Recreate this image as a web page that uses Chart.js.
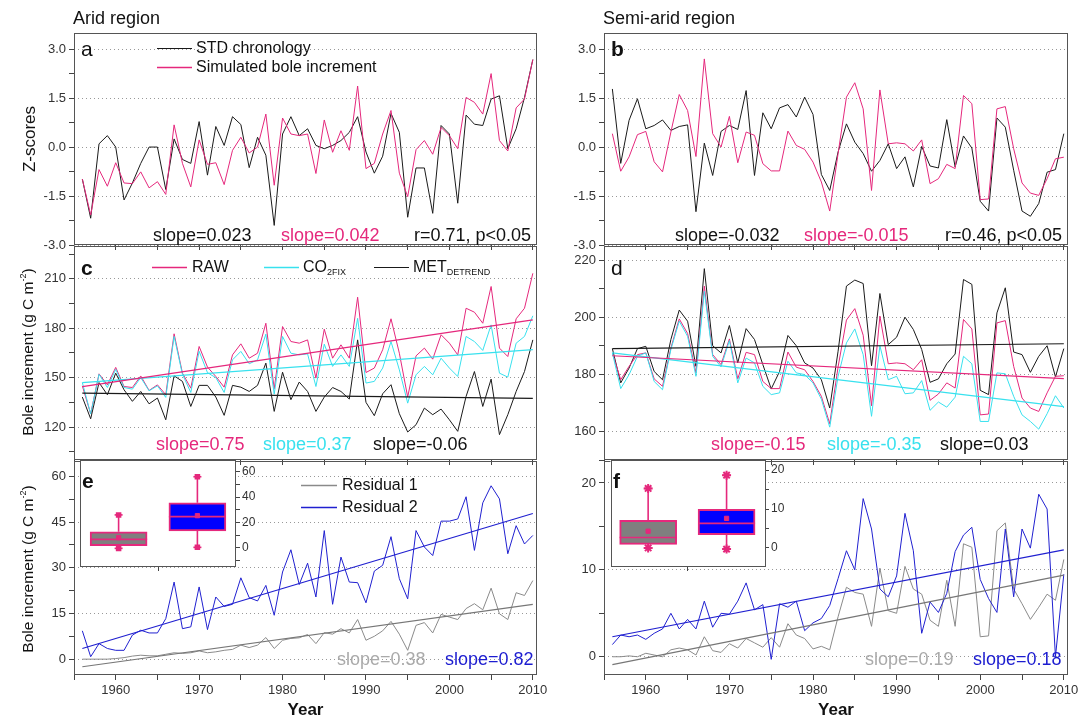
<!DOCTYPE html>
<html>
<head>
<meta charset="utf-8">
<script src="https://cdn.jsdelivr.net/npm/chart.js@4.4.0/dist/chart.umd.min.js"></script>
<style>
body{margin:0;background:#fff;width:1087px;height:721px;position:relative;overflow:hidden;font-family:"Liberation Sans",Arial,sans-serif;color:#111;}
#plots canvas{position:absolute;}
.t{position:absolute;white-space:nowrap;line-height:1;z-index:2;}
.s{font-size:18px;}
.g{font-size:16px;}
.L{font-size:21px;}
svg.ln{position:absolute;z-index:2;overflow:visible;}
.yt{position:absolute;white-space:nowrap;line-height:1;transform:translate(-50%,-50%) rotate(-90deg);z-index:2;}
sub{font-size:9px;vertical-align:-3px;}
sup{font-size:9px;vertical-align:7px;}
</style>
</head>
<body>
<div id="plots"></div>

<div class="t" style="left:73px;top:9px;font-size:18px">Arid region</div>
<div class="t" style="left:603px;top:9px;font-size:18px">Semi-arid region</div>

<div class="yt" style="left:29px;top:139px;font-size:17px">Z-scores</div>
<div class="yt" style="left:27px;top:352px;font-size:15.5px">Bole increment (g C m<sup>-2</sup>)</div>
<div class="yt" style="left:27px;top:569px;font-size:15.5px">Bole increment (g C m<sup>-2</sup>)</div>

<div class="t L" style="left:81px;top:38px">a</div>
<div class="t L" style="left:611px;top:38px;font-weight:bold">b</div>
<div class="t L" style="left:81px;top:257px;font-weight:bold">c</div>
<div class="t L" style="left:611px;top:257px">d</div>
<div class="t L" style="left:82px;top:470px;font-weight:bold">e</div>
<div class="t L" style="left:613px;top:470px;font-weight:bold">f</div>

<svg class="ln" style="left:157px;top:47px" width="35" height="3"><line x1="0" y1="1.5" x2="35" y2="1.5" stroke="#1a1a1a" stroke-width="1"/></svg>
<div class="t g" style="left:196px;top:40px">STD chronology</div>
<svg class="ln" style="left:157px;top:66px" width="35" height="3"><line x1="0" y1="1.5" x2="35" y2="1.5" stroke="#e5287c" stroke-width="1.6"/></svg>
<div class="t g" style="left:196px;top:59px">Simulated bole increment</div>

<div class="t s" style="left:153px;top:226px">slope=0.023</div>
<div class="t s" style="left:281px;top:226px;color:#e5287c">slope=0.042</div>
<div class="t s" style="right:556px;top:226px">r=0.71, p&lt;0.05</div>
<div class="t s" style="left:675px;top:226px">slope=-0.032</div>
<div class="t s" style="left:804px;top:226px;color:#e5287c">slope=-0.015</div>
<div class="t s" style="right:25px;top:226px">r=0.46, p&lt;0.05</div>

<svg class="ln" style="left:152px;top:266px" width="35" height="3"><line x1="0" y1="1.5" x2="35" y2="1.5" stroke="#e5287c" stroke-width="1.6"/></svg>
<div class="t g" style="left:192px;top:259px">RAW</div>
<svg class="ln" style="left:264px;top:266px" width="35" height="3"><line x1="0" y1="1.5" x2="35" y2="1.5" stroke="#38e1ee" stroke-width="1.6"/></svg>
<div class="t g" style="left:303px;top:259px">CO<sub>2FIX</sub></div>
<svg class="ln" style="left:374px;top:266px" width="35" height="3"><line x1="0" y1="1.5" x2="35" y2="1.5" stroke="#1a1a1a" stroke-width="1"/></svg>
<div class="t g" style="left:413px;top:259px">MET<sub>DETREND</sub></div>

<div class="t s" style="left:156px;top:435px;color:#e5287c">slope=0.75</div>
<div class="t s" style="left:263px;top:435px;color:#38e1ee">slope=0.37</div>
<div class="t s" style="left:373px;top:435px">slope=-0.06</div>
<div class="t s" style="left:711px;top:435px;color:#e5287c">slope=-0.15</div>
<div class="t s" style="left:827px;top:435px;color:#38e1ee">slope=-0.35</div>
<div class="t s" style="left:940px;top:435px">slope=0.03</div>

<svg class="ln" style="left:301px;top:484px" width="36" height="3"><line x1="0" y1="1.5" x2="36" y2="1.5" stroke="#8a8a8a" stroke-width="1.4"/></svg>
<div class="t g" style="left:342px;top:477px">Residual 1</div>
<svg class="ln" style="left:301px;top:506px" width="36" height="3"><line x1="0" y1="1.5" x2="36" y2="1.5" stroke="#2020d0" stroke-width="1.6"/></svg>
<div class="t g" style="left:342px;top:499px">Residual 2</div>

<div class="t s" style="left:337px;top:650px;color:#aaaaaa">slope=0.38</div>
<div class="t s" style="left:445px;top:650px;color:#1c1cd0">slope=0.82</div>
<div class="t s" style="left:865px;top:650px;color:#aaaaaa">slope=0.19</div>
<div class="t s" style="left:973px;top:650px;color:#1c1cd0">slope=0.18</div>

<script>
// years and series
const years = [1956,1957,1958,1959,1960,1961,1962,1963,1964,1965,
  1966,1967,1968,1969,1970,1971,1972,1973,1974,1975,
  1976,1977,1978,1979,1980,1981,1982,1983,1984,1985,
  1986,1987,1988,1989,1990,1991,1992,1993,1994,1995,
  1996,1997,1998,1999,2000,2001,2002,2003,2004,2005,
  2006,2007,2008,2009,2010];

// panel a / b : z-scores
const stdArid = [-0.98,-2.18,0.1,0.35,0.0,-1.62,-1.1,-0.5,0.0,0.0,
  -1.3,0.25,-0.38,-0.5,0.78,-0.86,0.63,0.05,0.93,0.69,
  -0.63,0.3,-0.25,-2.4,0.4,0.93,0.35,0.56,0.05,-0.05,
  0.05,0.2,0.45,0.93,-0.15,-0.8,-0.28,1.03,0.45,-2.15,
  -0.64,-0.64,-2.03,0.66,0.4,-1.72,0.98,0.7,0.66,1.47,
  1.57,-0.05,0.56,1.52,2.68];
const simArid = [-0.98,-2.08,-0.69,-1.2,-0.48,-1.1,-1.12,-0.76,-1.25,-1.06,
  -1.45,0.68,-0.5,-1.22,0.22,-0.53,-0.48,-1.15,-0.1,0.3,
  -0.18,0.0,1.01,-1.17,0.89,0.4,0.35,0.4,-0.81,0.83,
  -0.16,0.5,-0.1,1.87,-0.66,-0.5,0.4,1.12,-0.8,-1.52,
  -0.08,0.2,-0.22,0.6,0.35,-0.05,1.52,1.37,1.01,2.25,
  0.2,-0.12,1.2,1.47,2.68];
const stdSemi = [1.78,-0.5,0.82,1.48,0.56,0.66,0.83,0.51,0.63,0.68,
  -1.98,0.12,-0.87,0.48,0.66,0.54,1.73,-0.87,1.05,0.56,
  1.2,1.3,0.92,1.53,1.0,-0.84,-1.33,-0.15,0.71,0.15,
  -0.2,-0.74,-0.41,0.1,-0.66,-0.3,-1.22,0.02,-0.58,-0.64,
  0.84,-0.61,0.34,-0.03,-1.66,-1.96,0.89,0.61,-0.71,-1.96,
  -2.12,-1.73,-0.77,-0.69,0.41];
const simSemi = [0.41,-0.74,-0.3,0.38,0.48,-0.45,-0.76,0.46,1.61,1.12,
  -0.29,2.7,0.41,0.0,0.94,-0.48,0.46,0.36,-0.51,-0.73,
  -0.73,0.49,0.05,-0.07,-0.46,-1.07,-1.96,-0.2,1.53,1.97,
  1.17,-1.33,1.75,0.1,0.13,0.1,-0.12,0.22,-1.12,-0.97,
  -0.53,-0.66,1.58,1.33,-1.61,-1.59,1.17,1.24,-0.05,-1.1,
  -1.41,-1.48,-0.97,-0.36,-0.31];

// panel c / d : bole increment
const rawArid = [145,128,152.3,145.6,156.2,144.6,144,151,142.2,145.6,
  139.6,176.6,152.7,143.6,168.9,156.4,150.7,144.2,163.8,170.5,
  161.8,164.8,183,143.2,181,171.9,170.9,172.9,149.7,179.4,
  161.8,169.9,161.8,198.8,153.1,155.8,166.9,185.7,164.8,138.2,
  163.2,167.9,161.2,176,170.9,163.8,192.1,189.7,183,205.3,
  167.9,162.8,185.7,192.1,213.3];
const co2Arid = [147,128,152,144,155,144,143,150,142,145,
  138,175,152,141,166,153,150,141,160.8,165.9,
  158.4,160.8,176.4,140,175,164.8,163.8,164.4,144.6,170.3,
  156.8,163.8,156.8,186,146.7,147.7,155.8,171.9,154.7,134.5,
  151.7,156.8,151.7,161.8,155.8,150.7,175,171.9,166.5,182,
  152.7,150.3,170.9,175,187.5];
const metArid = [138.2,125,147,139.6,152.7,142.6,135.6,141.6,134.1,137.6,
  124.4,151.1,147.7,132.5,145.3,145.3,138.2,127.1,145.3,144.2,
  141.6,145.3,158.8,129.5,153.3,136.6,147.3,141.6,129.5,138.2,
  144,141.6,137,172.9,135,126.9,140.2,145.7,128.1,117,
  121.4,131.5,127.5,130.9,124.4,117.4,138.6,153.7,132.5,149.1,
  115.4,127.5,141.6,153.7,172.9];
const rawSemi = [187.5,178.1,182.8,186.9,187.5,178.4,175.8,189.2,199.4,194.3,
  180.5,210.9,186.9,183.4,192.4,178.4,187.7,186.9,177.5,175,
  175,187.8,182.5,181.6,177.5,172.3,162.7,182.6,199,203,
  193.7,169,200.4,183.7,184,183.7,181.6,185.1,170.9,173.1,
  177,175.2,199.2,195.9,165.8,166.1,198,198.8,182.8,171.7,
  168.2,167,173.5,179.3,179.5];
const co2Semi = [187.5,175,179.9,186.3,187.5,177.5,174.6,188.7,198.6,193.3,
  179.3,209.1,186.3,182.6,191.8,177,185.7,184,175.8,172.9,
  173.5,184.6,180.5,179.9,177,171.3,161.5,179.3,191,195.9,
  186.9,165.3,190,178.1,179.3,173.2,173.5,177.8,167.4,170.3,
  168.5,172,186.3,183.7,163.5,163.5,180.5,180.2,172.3,165.8,
  163.5,160.8,166.2,172.5,168.2];
const metSemi = [189,177,182.2,189,189.8,181,178.1,192.2,202.5,198.6,
  182.8,217,190,187.5,197.1,184,196,192.2,183.4,174.9,
  181,193.6,190,184,182.2,178.1,168.2,188.1,210.9,213,
  211.8,183,208.3,190.4,193,200,195.7,188.7,177.2,178.4,
  183.7,187.1,213.2,211.5,174.4,172.9,201.5,210.3,187.8,186.9,
  180.7,186.3,190,179.1,189];

// panel e / f : residuals
const res1Arid = [0,0,0,0,0.2,0.5,1,1.3,1.1,1.1,
  1.6,2.1,1.9,2.1,2.7,2.1,2.4,2.9,3.2,4.6,
  3.8,4.6,7.1,3.5,6.2,6.8,7,8.1,5.1,8.7,
  8.2,10,8.6,13,6.2,7.5,9.3,12.4,8.2,2.9,
  11.1,12,8.6,14.7,13.8,13,16.6,18.2,16.2,23.3,
  14.9,13,21.8,20.9,25.8];
const res2Arid = [9.3,0.8,5.1,3.5,2.9,2.9,7.9,9.5,8.6,8.6,
  13.3,25.3,10,10.6,23.7,9.7,20.4,17.3,18,26.7,
  20.2,19.1,24.2,14.4,28.6,35.9,24.5,31.5,20.4,42.2,
  18,33.5,25.3,25.1,18.5,28.9,30.8,40.2,26.4,19.8,
  42.2,36.8,34,45.3,45.3,46,53.3,35.7,51.3,56.9,
  52.6,34.6,43.8,37.8,40.6];
const res1Semi = [0,0,0.1,0,0.4,0.2,0,0.8,1.0,0.8,
  0.2,2.3,0.7,0.5,1.5,1.0,2.1,1.6,1.1,2.2,
  1.1,3.8,2.5,2.1,0.9,1.2,0.8,4.6,8.0,7.4,
  7.2,3.5,10.2,5.3,5.0,10.4,7.8,7.2,4.2,3.5,
  8.8,3.5,13.0,12.6,2.3,2.4,14.5,15.4,7.8,6.1,
  4.3,5.7,7.2,6.5,11.2];
const res2Semi = [1.4,2.5,2.3,2.5,2.0,2.7,3.2,5.0,3.2,4.3,
  3.2,6.4,3.4,5.0,4.9,6.4,8.5,5.4,6.0,-0.3,
  6.1,5.7,6.4,3.0,3.9,4.4,5.9,9.0,12.2,10.0,
  18.2,14.7,7.8,6.9,9.3,16.5,12.2,2.7,6.3,5.1,
  7.3,12.1,14.0,14.9,8.9,6.7,5.1,14.7,6.9,14.7,
  12.5,18.7,17.0,0,9.5];

// fitted trend lines: value at 1956 and at 2010
const trendRawArid = [144.5, 185];
const trendCo2Arid = [147, 167];
const trendMetArid = [140.6, 137.4];
const trendRawSemi = [186.5, 178.5];
const trendCo2Semi = [187.5, 168.7];
const trendMetSemi = [189, 190.7];
const trendRes1Arid = [-2.5, 18];
const trendRes2Arid = [3.5, 47.8];
const trendRes1Semi = [-0.9, 9.4];
const trendRes2Semi = [2.3, 12.3];

// inset box plots (Residual 1, Residual 2)
const boxMinE = [-0.5, 0.3], boxQ1E = [1.6, 13.2], boxMedE = [6.6, 24.5];
const boxQ3E = [12.6, 35.5], boxMaxE = [25.9, 56], boxMeanE = [7.9, 25.3];
const boxMinF = [0, -0.3], boxQ1F = [0.9, 3.4], boxMedF = [2.7, 6.3];
const boxQ3F = [7.1, 9.9], boxMaxF = [15.3, 18.7], boxMeanF = [4.3, 7.6];

const PINK = '#e5287c', CYAN = '#38e1ee', BLUE = '#2020d0', GRAY = '#8a8a8a', BLACK = '#1a1a1a';

Chart.defaults.font.family = "'Liberation Sans', Arial, sans-serif";
Chart.defaults.color = '#333';

// box round the plot area, white fill for insets
Chart.register({
  id: 'frame',
  beforeDraw(chart, args, opts) {
    if (!opts.fill) return;
    const a = chart.chartArea, ctx = chart.ctx;
    ctx.save();
    ctx.fillStyle = '#fff';
    ctx.fillRect(a.left, a.top, a.right - a.left, a.bottom - a.top);
    ctx.restore();
  },
  afterDraw(chart) {
    const a = chart.chartArea, ctx = chart.ctx;
    ctx.save();
    ctx.strokeStyle = '#555';
    ctx.lineWidth = 1;
    ctx.strokeRect(Math.round(a.left) + 0.5, Math.round(a.top) + 0.5,
      Math.round(a.right - a.left) - 1, Math.round(a.bottom - a.top) - 1);
    ctx.restore();
  }
});

function mkCanvas(left, top, w, h) {
  const c = document.createElement('canvas');
  c.width = w; c.height = h;
  c.style.left = left + 'px'; c.style.top = top + 'px';
  c.style.width = w + 'px'; c.style.height = h + 'px';
  document.getElementById('plots').appendChild(c);
  return c;
}

const pts = s => years.map((yr, i) => ({x: yr, y: s[i]}));
const trend = t => [{x: years[0], y: t[0]}, {x: years[years.length - 1], y: t[1]}];
const line = (s, color, order) => ({data: pts(s), borderColor: color, borderWidth: 1, pointRadius: 0, tension: 0, order: order});
const tline = (t, color) => ({data: trend(t), borderColor: color, borderWidth: 1.2, pointRadius: 0, order: 0});

const isMul = (v, m) => Math.abs(v / m - Math.round(v / m)) < 1e-6;

// plot-area top, bottom and x-axis band height per row
const rowBox = [[32, 245, 20], [245, 460, 20], [460, 675, 46]];

function panel(col, row, yMin, yMax, yStep, major, dec, datasets) {
  const left = col === 0 ? 0 : 560, w = col === 0 ? 560 : 527;
  const axisW = col === 0 ? 74 : 44, padR = col === 0 ? 23 : 19;
  const [T, B, xh] = rowBox[row];
  const cv = mkCanvas(left, T - 10, w, (B - T) + 10 + xh);
  const last = row === 2;
  return new Chart(cv, {
    type: 'line',
    data: {datasets: datasets},
    options: {
      responsive: false, animation: false,
      layout: {padding: {top: 10, right: padR, left: 0, bottom: 0}},
      plugins: {legend: {display: false}, tooltip: {enabled: false}},
      scales: {
        x: {
          type: 'linear', min: 1955, max: 2010.5,
          ticks: {stepSize: 5, includeBounds: false, autoSkip: false, maxRotation: 0, padding: 3,
            font: {size: 13}, color: '#333',
            callback: v => (last && v % 10 === 0) ? String(v) : ''},
          grid: {drawOnChartArea: false, drawTicks: true, tickLength: 5, tickColor: '#444'},
          border: {display: false},
          title: {display: last, text: 'Year', color: '#111', font: {size: 17, weight: 'bold'}, padding: {top: 0, bottom: 0}},
          afterFit: s => { s.height = xh; }
        },
        y: {
          min: yMin, max: yMax,
          ticks: {stepSize: yStep, includeBounds: false, autoSkip: false, padding: 3,
            font: {size: 13}, color: '#333',
            callback: v => isMul(v, major) ? v.toFixed(dec) : ''},
          grid: {drawTicks: true, tickLength: 5, tickColor: '#444', lineWidth: 1,
            color: c => (c.tick && isMul(c.tick.value, major)) ? '#999' : 'rgba(0,0,0,0)'},
          border: {display: false, dash: [1, 3]},
          afterFit: s => { s.width = axisW; }
        }
      }
    }
  });
}

panel(0, 0, -3, 3.5, 0.75, 1.5, 1, [line(stdArid, BLACK, 2), line(simArid, PINK, 1)]);
panel(1, 0, -3, 3.5, 0.75, 1.5, 1, [line(stdSemi, BLACK, 2), line(simSemi, PINK, 1)]);
panel(0, 1, 100, 230, 15, 30, 0, [
  line(rawArid, PINK, 3), line(co2Arid, CYAN, 2), line(metArid, BLACK, 1),
  tline(trendRawArid, PINK), tline(trendCo2Arid, CYAN), tline(trendMetArid, BLACK)]);
panel(1, 1, 150, 225, 10, 20, 0, [
  line(metSemi, BLACK, 3), line(rawSemi, PINK, 2), line(co2Semi, CYAN, 1),
  tline(trendRawSemi, PINK), tline(trendCo2Semi, CYAN), tline(trendMetSemi, BLACK)]);
panel(0, 2, -5.2, 65.1, 7.5, 15, 0, [
  line(res1Arid, GRAY, 2), line(res2Arid, BLUE, 1),
  tline(trendRes1Arid, '#777'), tline(trendRes2Arid, BLUE)]);
panel(1, 2, -2.1, 22.55, 5, 10, 0, [
  line(res1Semi, GRAY, 2), line(res2Semi, BLUE, 1),
  tline(trendRes1Semi, '#777'), tline(trendRes2Semi, BLUE)]);

// whiskers, caps and median lines of the inset box plots
const whiskers = {
  id: 'whiskers',
  afterDatasetsDraw(chart, args, o) {
    const {ctx, scales: {x, y}} = chart;
    const bars = chart.getDatasetMeta(0).data;
    const seg = (x1, y1, x2, y2) => { ctx.beginPath(); ctx.moveTo(x1, y1); ctx.lineTo(x2, y2); ctx.stroke(); };
    ctx.save();
    ctx.strokeStyle = PINK;
    ctx.lineWidth = 1.6;
    o.min.forEach((mn, i) => {
      const px = x.getPixelForValue(i + 1), hw = bars[i].width / 2;
      seg(px, y.getPixelForValue(o.q3[i]), px, y.getPixelForValue(o.max[i]));
      seg(px, y.getPixelForValue(o.q1[i]), px, y.getPixelForValue(mn));
      seg(px - 4, y.getPixelForValue(o.max[i]), px + 4, y.getPixelForValue(o.max[i]));
      seg(px - 4, y.getPixelForValue(mn), px + 4, y.getPixelForValue(mn));
      seg(px - hw, y.getPixelForValue(o.med[i]), px + hw, y.getPixelForValue(o.med[i]));
    });
    ctx.restore();
  }
};

function inset(left, right, xMin, xMax, yMin, yMax, yStep, major, st, endStyle) {
  const w = 200;
  const cv = mkCanvas(left, 450, w, 127);
  return new Chart(cv, {
    type: 'bar',
    data: {datasets: [
      {type: 'bar', data: st.q1.map((q, i) => ({x: i + 1, y: [q, st.q3[i]]})),
        backgroundColor: ['#7f7f7f', '#0000ff'], borderColor: PINK, borderWidth: 2,
        borderSkipped: false, barThickness: 57, order: 2},
      {type: 'scatter', data: st.mean.map((m, i) => ({x: i + 1, y: m})),
        pointStyle: 'rect', pointRadius: 3, backgroundColor: PINK, borderColor: PINK, order: 1},
      {type: 'scatter', data: st.min.map((m, i) => ({x: i + 1, y: m})).concat(st.max.map((m, i) => ({x: i + 1, y: m}))),
        pointStyle: endStyle, pointRadius: endStyle === 'star' ? 4.5 : 2.5, borderWidth: 2,
        backgroundColor: PINK, borderColor: PINK, order: 0}
    ]},
    options: {
      responsive: false, animation: false,
      layout: {padding: {top: 10, right: 0, left: 0, bottom: 0}},
      plugins: {legend: {display: false}, tooltip: {enabled: false}, frame: {fill: true},
        whiskers: {min: st.min, q1: st.q1, med: st.med, q3: st.q3, max: st.max}},
      scales: {
        x: {type: 'linear', min: xMin, max: xMax, offset: false,
          ticks: {stepSize: 1, includeBounds: false, callback: () => ''},
          grid: {drawOnChartArea: false, tickLength: 4, tickColor: '#444'},
          border: {display: false},
          afterFit: s => { s.height = 10; }},
        y: {position: 'right', min: yMin, max: yMax,
          ticks: {stepSize: yStep, includeBounds: false, autoSkip: false, padding: 2,
            font: {size: 12}, color: '#333',
            callback: v => isMul(v, major) ? String(v) : ''},
          grid: {drawOnChartArea: false, tickLength: 4, tickColor: '#444'},
          border: {display: false},
          afterFit: s => { s.width = w - (right - left); }}
      }
    },
    plugins: [whiskers]
  });
}

inset(74, 236, 0.51, 2.49, -15.2, 69.2, 10, 20,
  {min: boxMinE, q1: boxQ1E, med: boxMedE, q3: boxQ3E, max: boxMaxE, mean: boxMeanE}, 'rect');
inset(604, 765, 0.52, 2.49, -4.9, 22.6, 5, 10,
  {min: boxMinF, q1: boxQ1F, med: boxMedF, q3: boxQ3F, max: boxMaxF, mean: boxMeanF}, 'star');
</script>
</body>
</html>
